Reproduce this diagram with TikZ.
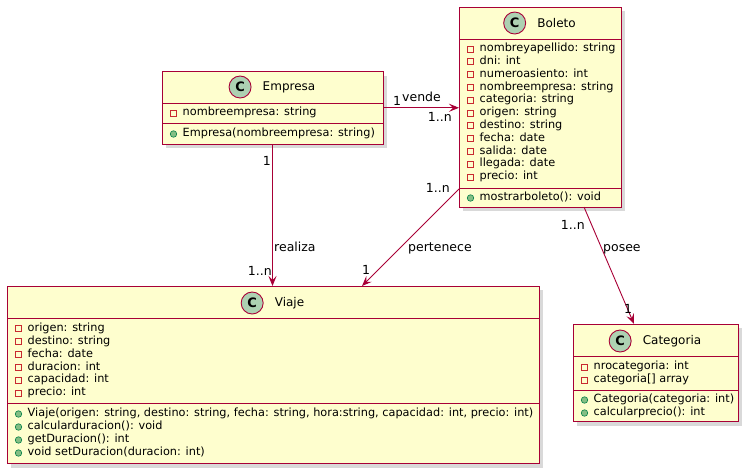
\documentclass[tikz,border=0pt]{standalone}
\usepackage{fontspec}
\setmainfont{DejaVu Sans}
\usetikzlibrary{arrows.meta,shadows}
\definecolor{umlred}{HTML}{A80036}
\definecolor{umlfill}{HTML}{FEFECE}
\definecolor{umlcirc}{HTML}{ADD1B2}
\definecolor{privred}{HTML}{C82930}
\definecolor{pubfill}{HTML}{84BE84}
\definecolor{pubdraw}{HTML}{038048}
\tikzset{
  classbox/.style={draw=umlred, fill=umlfill, line width=1pt, outer sep=0pt, inner sep=0pt,
    drop shadow={shadow xshift=4pt, shadow yshift=-4pt, opacity=0.3, fill=black!50}},
  sepline/.style={draw=umlred, line width=0.9pt},
  ccircle/.style={circle, draw=umlred, fill=umlcirc, line width=0.9pt, minimum size=22pt,
    inner sep=0pt, font=\bfseries\fontsize{13}{15}\selectfont},
  classname/.style={inner sep=0pt, font=\fontsize{12}{14}\selectfont,
    label={[ccircle, label distance=11pt]left:C}},
  member/.style={anchor=west, inner sep=0pt, text height=8pt, text depth=2.5pt,
    font=\fontsize{11.3}{13}\selectfont},
  privicon/.style={rectangle, draw=privred, line width=0.8pt, minimum size=6pt, inner sep=0pt},
  pubicon/.style={circle, draw=pubdraw, fill=pubfill, line width=0.6pt, minimum size=6.5pt, inner sep=0pt},
  assoc/.style={draw=umlred, line width=0.9pt, -{Stealth[length=10pt, width=8pt, inset=4pt]}},
  edgelabel/.style={inner sep=0pt, font=\fontsize{12.5}{14}\selectfont},
}
% #1 prefix, #2 left x, #3 first line y, #4 line step, #5 items
\newcommand\attrlist[5]{%
  \foreach \t [count=\i from 0] in {#5} {
    \node[privicon] (#1-ai\i) at ({#2+11.5},{#3+\i*#4}) {};
    \node[member] (#1-a\i) at ({#2+20.5},{#3+\i*#4}) {\t};
  }}
\newcommand\methlist[5]{%
  \foreach \t [count=\i from 0] in {#5} {
    \node[pubicon] (#1-mi\i) at ({#2+11.5},{#3+\i*#4}) {};
    \node[member] (#1-m\i) at ({#2+20.5},{#3+\i*#4}) {\t};
  }}

\begin{document}
\begin{tikzpicture}[x=1pt, y=-1pt]
  \useasboundingbox (0,0) rectangle (751,475);

  % Empresa
  \node[classbox, minimum width=221pt, minimum height=72.5pt] (empresa) at (272.5,107.75) {};
  \draw[sepline] (162,103) -- (383,103);
  \draw[sepline] (162,123) -- (383,123);
  \node[classname] (empresa-name) at (289,87) {Empresa};
  \attrlist{empresa}{162}{113}{12.9}{{nombreempresa: string}}
  \methlist{empresa}{162}{134}{12.9}{{Empresa(nombreempresa: string)}}

  % Boleto
  \node[classbox, minimum width=162pt, minimum height=200pt] (boleto) at (540,107) {};
  \draw[sepline] (459,39) -- (621,39);
  \draw[sepline] (459,188) -- (621,188);
  \node[classname] (boleto-name) at (556.5,23) {Boleto};
  \attrlist{boleto}{459}{49}{12.8}{{nombreyapellido: string}, {dni: int}, {numeroasiento: int},
    {nombreempresa: string}, {categoria: string}, {origen: string}, {destino: string},
    {fecha: date}, {salida: date}, {llegada: date}, {precio: int}}
  \methlist{boleto}{459}{198}{12.9}{{mostrarboleto(): void}}

  % Viaje
  \node[classbox, minimum width=532pt, minimum height=177.5pt] (viaje) at (273,374.75) {};
  \draw[sepline] (7,318.5) -- (539,318.5);
  \draw[sepline] (7,403) -- (539,403);
  \node[classname] (viaje-name) at (289.5,303) {Viaje};
  \attrlist{viaje}{7}{328.6}{12.9}{{origen: string}, {destino: string}, {fecha: date},
    {duracion: int}, {capacidad: int}, {precio: int}}
  \methlist{viaje}{7}{414}{13}{{Viaje(origen: string, destino: string, fecha: string, hora:string, capacidad: int, precio: int)},
    {calcularduracion(): void}, {getDuracion(): int}, {void setDuracion(duracion: int)}}

  % Categoria
  \node[classbox, minimum width=165pt, minimum height=97.5pt] (categoria) at (655.5,372.75) {};
  \draw[sepline] (573,356) -- (738,356);
  \draw[sepline] (573,390) -- (738,390);
  \node[classname] (categoria-name) at (672,341) {Categoria};
  \attrlist{categoria}{573}{367}{13}{{nrocategoria: int}, {categoria[] array}}
  \methlist{categoria}{573}{400}{13}{{Categoria(categoria: int)}, {calcularprecio(): int}}

  % associations
  \draw[assoc] (empresa.east) -- (empresa.east -| boleto.west);
  \draw[assoc] (empresa.south) -- (empresa.south |- viaje.north);
  \draw[assoc] ([yshift=18pt]boleto.south west) -- ([xshift=89pt]viaje.north);
  \draw[assoc] ([xshift=44pt]boleto.south) -- ([xshift=-21.5pt]categoria.north);

  % labels
  \node[edgelabel, anchor=base west] (vende-from) at (393,105) {1};
  \node[edgelabel, anchor=base west] (vende) at (402,101.5) {vende};
  \node[edgelabel, anchor=base east] (vende-to) at (452,121.7) {1..n};
  \node[edgelabel, anchor=base east] (realiza-from) at (271,165) {1};
  \node[edgelabel, anchor=base west] (realiza) at (274,251.7) {realiza};
  \node[edgelabel, anchor=base east] (realiza-to) at (272,275) {1..n};
  \node[edgelabel, anchor=base east] (pertenece-from) at (450,192.3) {1..n};
  \node[edgelabel, anchor=base west] (pertenece) at (408,251.7) {pertenece};
  \node[edgelabel, anchor=base west] (pertenece-to) at (362,274) {1};
  \node[edgelabel, anchor=base east] (posee-from) at (585,229) {1..n};
  \node[edgelabel, anchor=base west] (posee) at (603,251.7) {posee};
  \node[edgelabel, anchor=base west] (posee-to) at (624,313) {1};
\end{tikzpicture}
\end{document}
